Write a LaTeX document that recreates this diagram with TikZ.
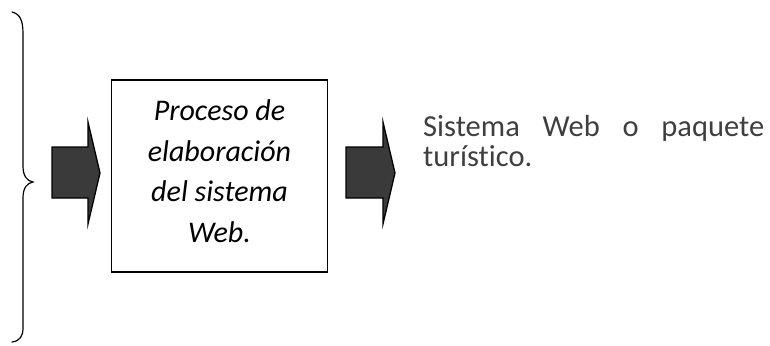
\documentclass[tikz,border=0pt]{standalone}
\usepackage{fontspec}
\setmainfont[Ligatures={NoCommon}]{Carlito}
\begin{document}
\begin{tikzpicture}[x=1pt,y=-1pt,
  blockarrow/.style={draw=black,line width=1.3pt,fill=arrowgray,line join=miter},
  procbox/.style={draw=black,line width=1.6pt,minimum width=216pt,minimum height=192pt,inner sep=0pt},
  proctext/.style={inner sep=0pt,align=center,font=\fontsize{30}{40.5}\selectfont\itshape},
  outtext/.style={inner sep=0pt,anchor=base west,align=left,text=textgray,
    font=\fontsize{30.5}{30}\selectfont}]
\definecolor{arrowgray}{HTML}{3A3A3A}
\definecolor{textgray}{HTML}{3F3F3F}
\useasboundingbox (0,0) rectangle (770,345);
% brace
\draw[line width=1.2pt,line cap=round]
  (12,12) .. controls (20,14) and (23,20) .. (23,34)
  -- (23,166) .. controls (23,176) and (27,181) .. (33,182)
  .. controls (27,183) and (23,188) .. (23,198)
  -- (23,328) .. controls (23,336) and (20,341) .. (12,342);
% left block arrow
\draw[blockarrow] (52,147) -- (88,147) -- (88,122) -- (100,173) -- (88,224) -- (88,198) -- (52,198) -- cycle;
% process box
\node[procbox] (proc) at (219.5,176) {};
\node[proctext] (proclabel) at (219.5,171) {Proceso de\\elaboración\\del sistema\\Web.};
% right block arrow
\draw[blockarrow] (346,147) -- (383,147) -- (383,122) -- (395,173) -- (383,224) -- (383,198) -- (346,198) -- cycle;
% output text
\node[outtext] (out) at (423,166) {\makebox[341pt][s]{Sistema Web o paquete}\\turístico.};
\end{tikzpicture}
\end{document}
